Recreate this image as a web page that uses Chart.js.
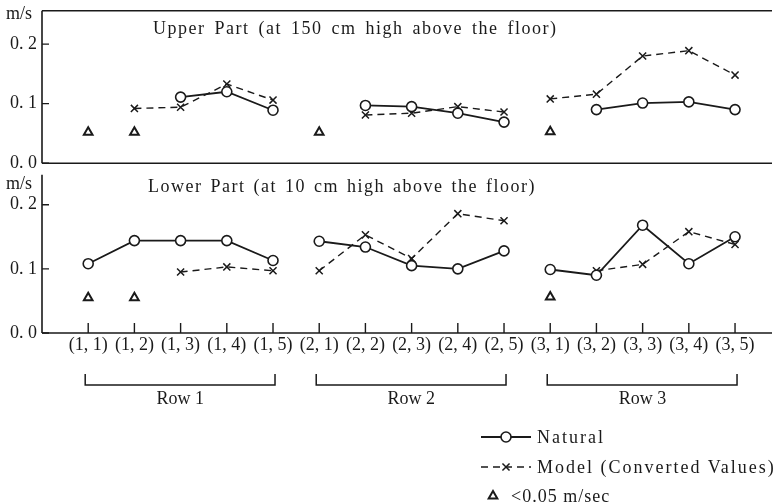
<!DOCTYPE html>
<html>
<head>
<meta charset="utf-8">
<script src="https://cdn.jsdelivr.net/npm/chart.js@4.4.1/dist/chart.umd.min.js"></script>
<style>
  body { margin: 0; width: 779px; height: 504px; overflow: hidden; position: relative; background: #fff;
         font-family: "Liberation Serif", "DejaVu Serif", serif; color: #1a1a1a; }
  canvas { position: absolute; left: 0; }
  .txt { position: absolute; white-space: nowrap; font-size: 18px; line-height: 1; }
  .title { letter-spacing: 1.5px; word-spacing: 3px; }
  .leg { letter-spacing: 2px; }
</style>
</head>
<body>
<canvas id="upper" width="779" height="184" style="top:-5px"></canvas>
<canvas id="lower" width="779" height="345" style="top:159px"></canvas>

<div class="txt" style="left:6px;top:4px">m/s</div>
<div class="txt" style="left:6px;top:174px">m/s</div>
<div class="txt title" style="left:153px;top:19px">Upper Part (at 150 cm high above the floor)</div>
<div class="txt title" style="left:148px;top:177px;word-spacing:2px">Lower Part (at 10 cm high above the floor)</div>
<div class="txt" id="row1" style="top:389px">Row 1</div>
<div class="txt" id="row2" style="top:389px">Row 2</div>
<div class="txt" id="row3" style="top:389px">Row 3</div>
<div class="txt leg" style="left:537px;top:428px">Natural</div>
<div class="txt leg" style="left:537px;top:458px">Model (Converted Values)</div>
<div class="txt" style="left:511px;top:487px;letter-spacing:1px">&lt;0.05 m/sec</div>

<script>
const categories = ['(1, 1)', '(1, 2)', '(1, 3)', '(1, 4)', '(1, 5)',
                    '(2, 1)', '(2, 2)', '(2, 3)', '(2, 4)', '(2, 5)',
                    '(3, 1)', '(3, 2)', '(3, 3)', '(3, 4)', '(3, 5)'];
const rowNames = ['Row 1', 'Row 2', 'Row 3'];
const yTicks = [0, 0.1, 0.2];
const yTickLabels = ['0. 0', '0. 1', '0. 2'];

// upper part (150 cm)
const upperNatural = [null, null, 0.111, 0.120, 0.089,  null, 0.097, 0.095, 0.084, 0.069,  null, 0.090, 0.101, 0.103, 0.090];
const upperModel   = [null, 0.092, 0.094, 0.133, 0.106,  null, 0.081, 0.084, 0.095, 0.086,  0.108, 0.116, 0.180, 0.189, 0.148];
const upperBelow   = [0.052, 0.052, null, null, null,  0.052, null, null, null, null,  0.053, null, null, null, null];

// lower part (10 cm)
const lowerNatural = [0.108, 0.144, 0.144, 0.144, 0.113,  0.143, 0.134, 0.105, 0.100, 0.128,  0.099, 0.090, 0.168, 0.108, 0.150];
const lowerModel   = [null, null, 0.095, 0.103, 0.097,  0.097, 0.153, 0.116, 0.186, 0.175,  null, 0.097, 0.107, 0.158, 0.138];
const lowerBelow   = [0.055, 0.055, null, null, null,  null, null, null, null, null,  0.056, null, null, null, null];

const INK = '#1a1a1a';
const FONT = '"Liberation Serif", "DejaVu Serif", serif';

// points on a linear x scale, with a break between rows
function toPoints(values) {
    const pts = [];
    values.forEach(function (v, i) {
        pts.push({x: i + 1, y: v});
        if (i % 5 === 4 && i < values.length - 1) pts.push({x: i + 1.5, y: null});
    });
    return pts;
}

const naturalStyle = {
    borderColor: INK, borderWidth: 1.8, pointStyle: 'circle', pointRadius: 5,
    pointBackgroundColor: '#fff', pointBorderColor: INK, pointBorderWidth: 1.6,
    spanGaps: false, tension: 0
};
const modelStyle = {
    borderColor: INK, borderWidth: 1.4, borderDash: [7, 5], pointStyle: 'crossRot', pointRadius: 5,
    pointBorderColor: INK, pointBorderWidth: 1.5, spanGaps: false, tension: 0
};
const belowStyle = {
    showLine: false, pointStyle: 'triangle', pointRadius: 5,
    pointBackgroundColor: '#fff', pointBorderColor: INK, pointBorderWidth: 2
};

// frame, inward tick marks, row brackets and legend keys
const framePlugin = {
    id: 'frame',
    afterDraw(chart, args, opts) {
        const ctx = chart.ctx;
        const a = chart.chartArea;
        const y = chart.scales.y;
        const x = chart.scales.x;
        ctx.save();
        ctx.strokeStyle = INK;
        ctx.lineWidth = 1.6;
        ctx.beginPath();
        ctx.moveTo(a.left, a.top);
        ctx.lineTo(a.left, a.bottom);
        ctx.moveTo(a.left, a.bottom);
        ctx.lineTo(a.right, a.bottom);
        if (opts.top) {
            ctx.moveTo(a.left, a.top);
            ctx.lineTo(a.right, a.top);
        }
        ctx.stroke();
        ctx.lineWidth = 1.4;
        ctx.beginPath();
        yTicks.forEach(function (t) {
            const py = y.getPixelForValue(t);
            ctx.moveTo(a.left, py);
            ctx.lineTo(a.left + 7, py);
        });
        if (opts.xTicks) {
            categories.forEach(function (c, i) {
                const px = x.getPixelForValue(i + 1);
                ctx.moveTo(px, a.bottom);
                ctx.lineTo(px, a.bottom - 10);
            });
        }
        ctx.stroke();

        if (opts.extras) {
            const off = 159; // canvas top on the page
            ctx.lineWidth = 1.5;
            ctx.beginPath();
            rowNames.forEach(function (name, r) {
                const x0 = x.getPixelForValue(r * 5 + 1) - 3;
                const x1 = x.getPixelForValue(r * 5 + 5) + 2;
                ctx.moveTo(x0, 374 - off);
                ctx.lineTo(x0, 385 - off);
                ctx.lineTo(x1, 385 - off);
                ctx.lineTo(x1, 374 - off);
                const el = document.getElementById('row' + (r + 1));
                el.style.left = (x.getPixelForValue(r * 5 + 3) - el.offsetWidth / 2) + 'px';
            });
            ctx.stroke();

            ctx.lineWidth = 1.8;
            ctx.beginPath();
            ctx.moveTo(481, 437 - off);
            ctx.lineTo(531, 437 - off);
            ctx.stroke();
            ctx.lineWidth = 1.6;
            ctx.fillStyle = '#fff';
            ctx.beginPath();
            ctx.arc(506, 437 - off, 5, 0, Math.PI * 2);
            ctx.fill();
            ctx.stroke();
            ctx.lineWidth = 1.4;
            ctx.setLineDash([7, 5]);
            ctx.beginPath();
            ctx.moveTo(481, 467 - off);
            ctx.lineTo(531, 467 - off);
            ctx.stroke();
            ctx.setLineDash([]);
            ctx.lineWidth = 1.5;
            Chart.helpers.drawPoint(ctx, {pointStyle: 'crossRot', radius: 5, borderWidth: 1.5}, 506, 467 - off);
            ctx.lineWidth = 2;
            ctx.fillStyle = '#fff';
            Chart.helpers.drawPoint(ctx, {pointStyle: 'triangle', radius: 5, borderWidth: 2}, 493, 496 - off);
        }
        ctx.restore();
    }
};

function makeScales(max, showX) {
    const x = {
        type: 'linear', min: 0, max: 15.8,
        display: showX,
        afterBuildTicks: function (s) { s.ticks = categories.map(function (c, i) { return {value: i + 1}; }); },
        grid: {display: false, drawTicks: false},
        border: {display: false},
        ticks: {
            autoSkip: false, maxRotation: 0, padding: 1, color: INK,
            font: {family: FONT, size: 18},
            callback: function (v) { return categories[v - 1]; }
        }
    };
    if (showX) x.afterFit = function (s) { s.height = 171; };
    return {
        x: x,
        y: {
            min: 0, max: max,
            afterFit: function (s) { s.width = 42; },
            afterBuildTicks: function (s) { s.ticks = yTicks.map(function (v) { return {value: v}; }); },
            grid: {display: false, drawTicks: false},
            border: {display: false},
            ticks: {
                padding: 5, color: INK, font: {family: FONT, size: 18},
                callback: function (v, i) { return yTickLabels[i]; }
            }
        }
    };
}

function makeChart(id, nat, mod, below, max, showX, frameOpts, padding) {
    return new Chart(document.getElementById(id), {
        type: 'line',
        data: {
            datasets: [
                Object.assign({label: 'Natural', data: toPoints(nat)}, naturalStyle),
                Object.assign({label: 'Model (Converted Values)', data: toPoints(mod)}, modelStyle),
                Object.assign({label: '<0.05 m/sec', data: toPoints(below)}, belowStyle)
            ]
        },
        options: {
            responsive: false,
            animation: false,
            layout: {padding: padding},
            plugins: {legend: {display: false}, tooltip: {enabled: false}, frame: frameOpts},
            scales: makeScales(max, showX)
        },
        plugins: [framePlugin]
    });
}

makeChart('upper', upperNatural, upperModel, upperBelow, 0.256, false,
    {top: true, xTicks: false, extras: false}, {top: 10, bottom: 10, left: 0, right: 0});
makeChart('lower', lowerNatural, lowerModel, lowerBelow, 0.2466, true,
    {top: false, xTicks: true, extras: true}, {top: 10, bottom: 0, left: 0, right: 0});
</script>
</body>
</html>
